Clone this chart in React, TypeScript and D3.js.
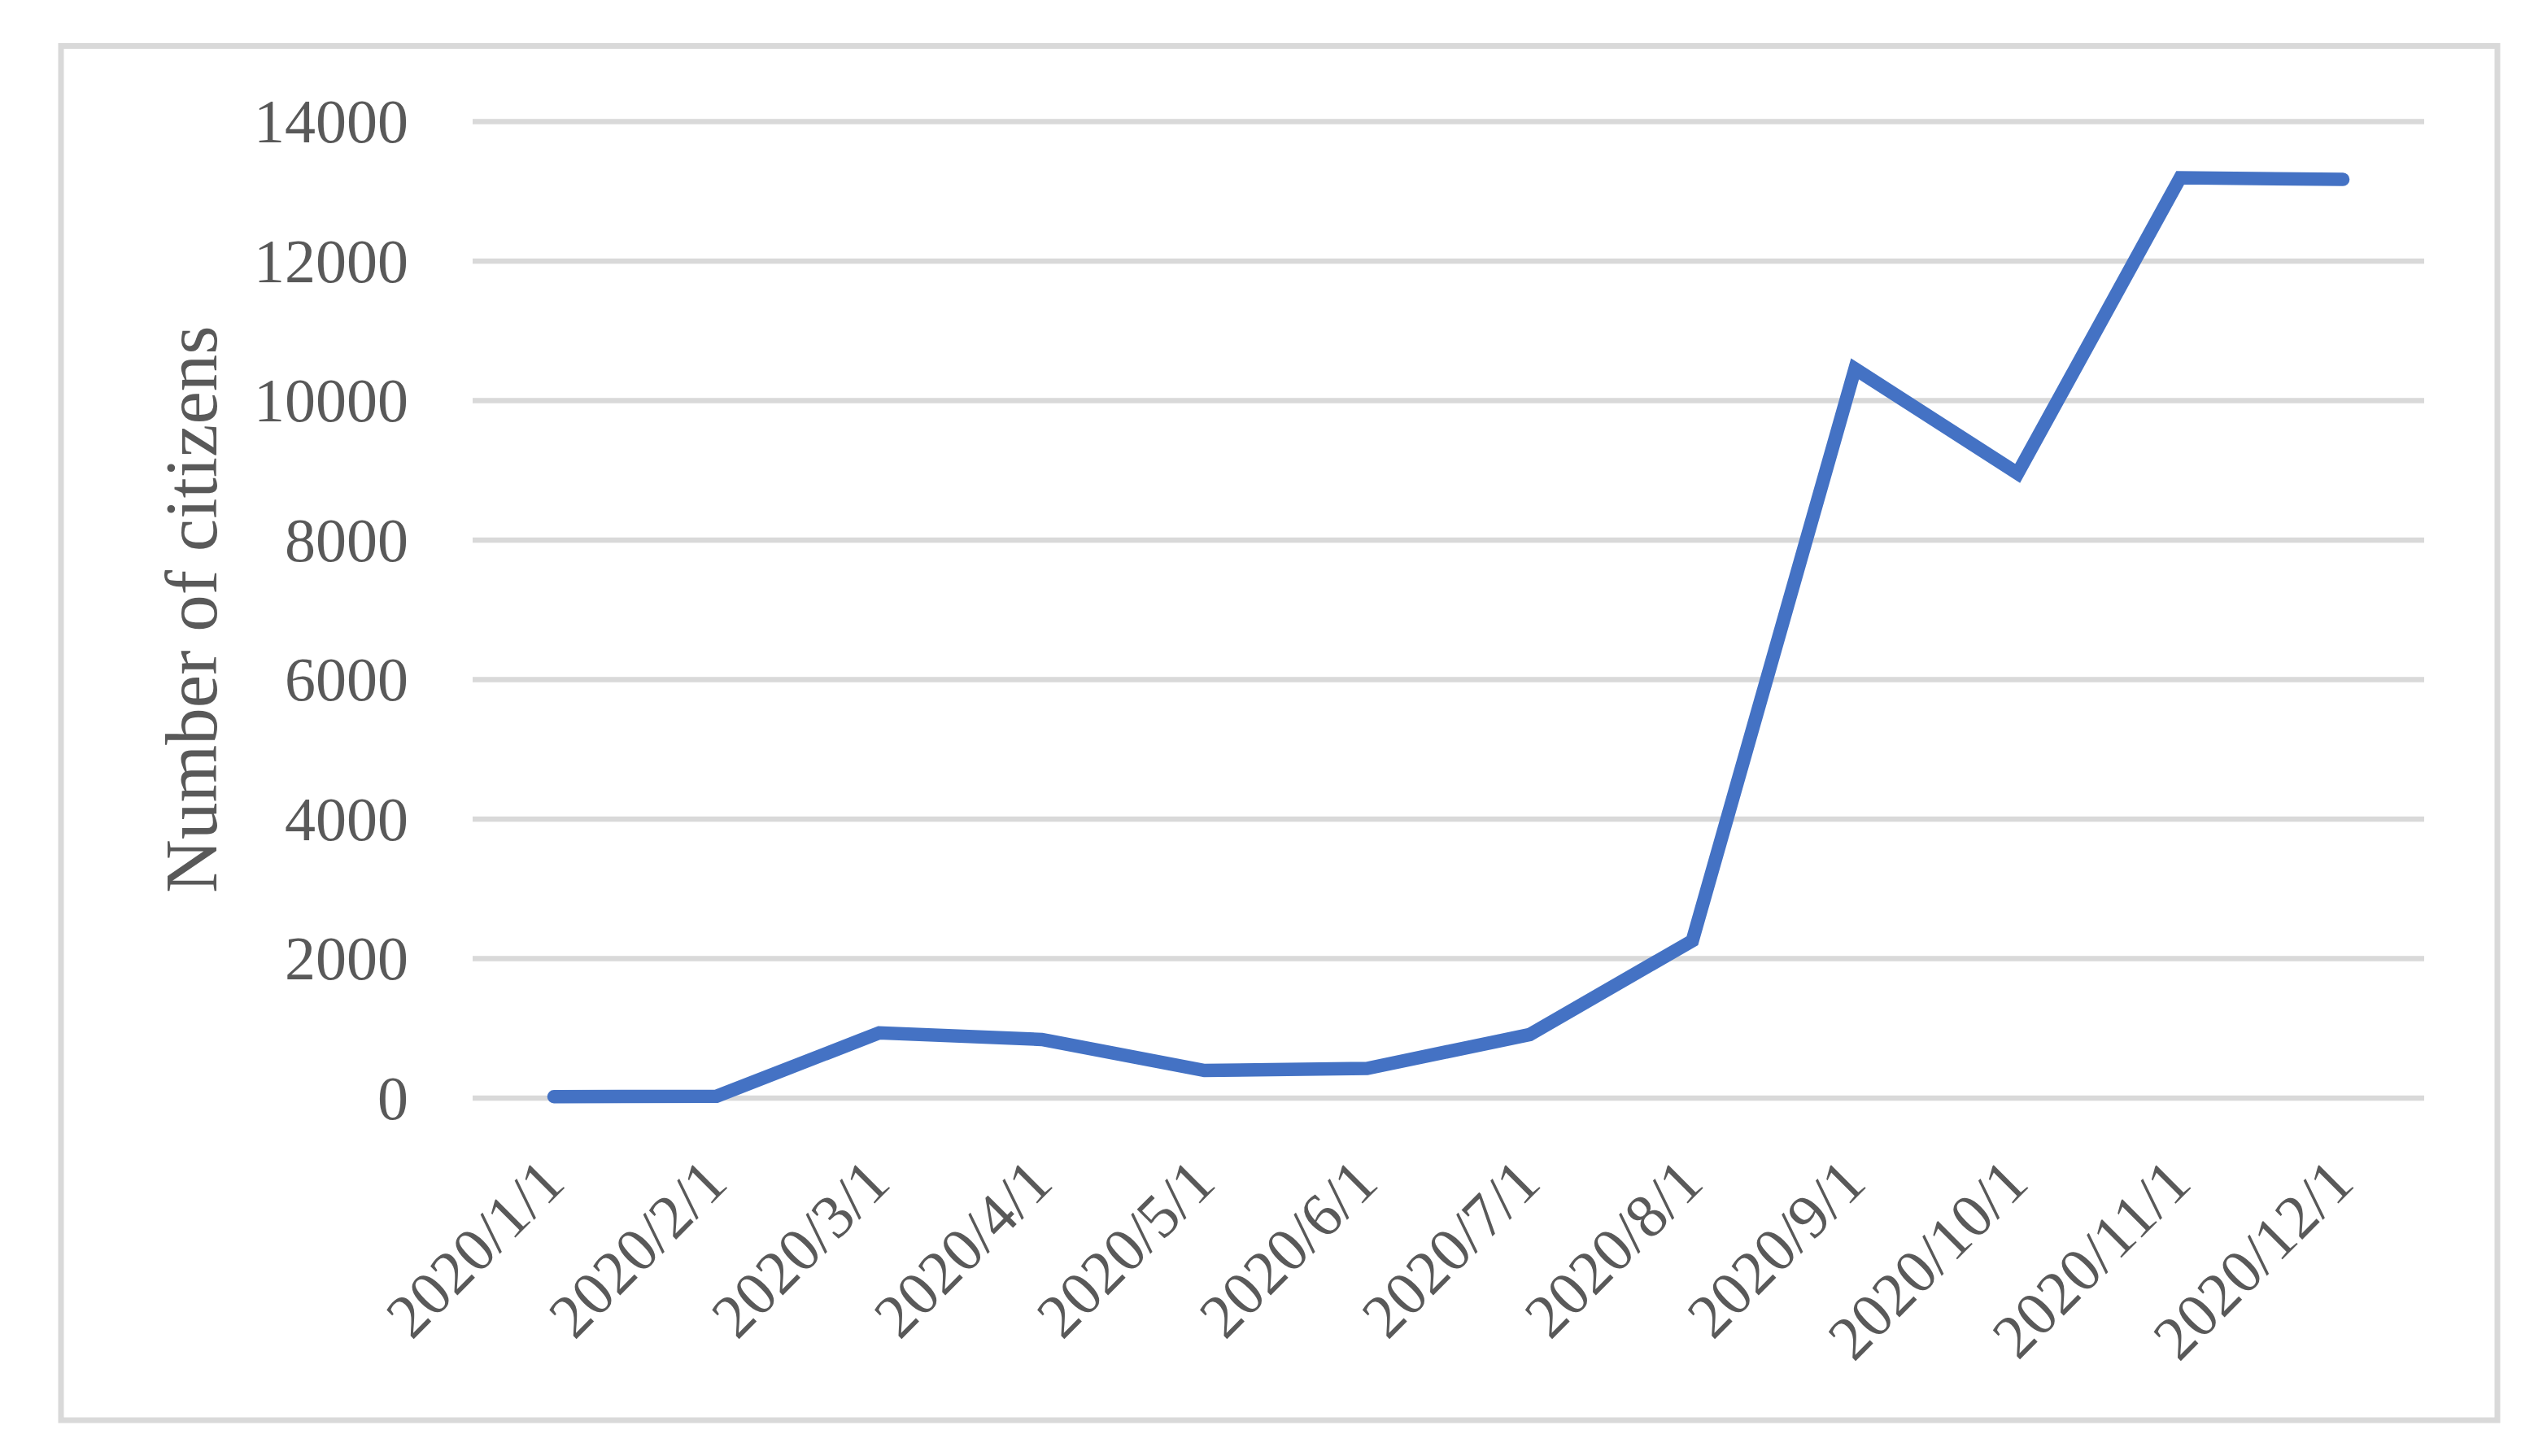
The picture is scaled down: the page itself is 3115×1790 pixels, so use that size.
import * as d3 from 'd3';
import { useEffect, useRef } from 'react';

// Chart data
const months = [
  '2020/1/1',
  '2020/2/1',
  '2020/3/1',
  '2020/4/1',
  '2020/5/1',
  '2020/6/1',
  '2020/7/1',
  '2020/8/1',
  '2020/9/1',
  '2020/10/1',
  '2020/11/1',
  '2020/12/1',
];
const citizens = [15, 20, 930, 835, 390, 420, 905, 2250, 10450, 8950, 13190, 13165];
const yTicks = [0, 2000, 4000, 6000, 8000, 10000, 12000, 14000];
const yTitle = 'Number of citizens';

export default function App() {
  const chartRef = useRef<SVGSVGElement | null>(null);

  // Define dimensions
  const width = 3115;
  const height = 1790;
  const plot = { left: 581, right: 2980, top: 149, bottom: 1349.5 };
  const font = '"Liberation Serif", "DejaVu Serif", serif';
  const textColor = '#595959';
  const gridColor = '#D9D9D9';

  useEffect(() => {
    const svg = d3.select(chartRef.current);
    svg.selectAll('*').remove();

    // Outer frame
    svg
      .append('rect')
      .attr('x', 75)
      .attr('y', 56.5)
      .attr('width', 3070 - 75)
      .attr('height', 1746 - 56.5)
      .attr('fill', 'white')
      .attr('stroke', gridColor)
      .attr('stroke-width', 7);

    // Scales
    const xScale = d3
      .scalePoint<string>()
      .domain(months)
      .range([plot.left, plot.right])
      .padding(0.5);
    const yScale = d3
      .scaleLinear()
      .domain([0, 14000])
      .range([plot.bottom, plot.top]);

    // Y axis with gridlines
    const yAxis = d3
      .axisLeft(yScale)
      .tickValues(yTicks)
      .tickFormat((d) => String(d))
      .tickSize(-(plot.right - plot.left))
      .tickPadding(79);
    const yG = svg
      .append('g')
      .attr('transform', `translate(${plot.left},0)`)
      .call(yAxis);
    yG.select('.domain').remove();
    yG.selectAll('line').attr('stroke', gridColor).attr('stroke-width', 6.5);
    yG.selectAll('text')
      .attr('fill', textColor)
      .attr('font-family', font)
      .attr('font-size', 76)
      .attr('dy', '0.34em');

    // X axis labels, rotated
    const xAxis = d3.axisBottom(xScale).tickSize(0);
    const xG = svg
      .append('g')
      .attr('transform', `translate(0,${plot.bottom})`)
      .call(xAxis);
    xG.select('.domain').remove();
    xG.selectAll('text')
      .attr('fill', textColor)
      .attr('font-family', font)
      .attr('font-size', 76)
      .attr('x', 0)
      .attr('y', 0)
      .attr('dy', 0)
      .attr('text-anchor', 'end')
      .attr('transform', 'translate(16,108) rotate(-45)');

    // Y axis title
    svg
      .append('text')
      .text(yTitle)
      .attr('transform', 'translate(266,749) rotate(-90)')
      .attr('text-anchor', 'middle')
      .attr('fill', textColor)
      .attr('font-family', font)
      .attr('font-size', 91);

    // Data line
    const line = d3
      .line<number>()
      .x((d, i) => xScale(months[i]) as number)
      .y((d) => yScale(d));
    svg
      .append('path')
      .datum(citizens)
      .attr('d', line)
      .attr('fill', 'none')
      .attr('stroke', '#4472C4')
      .attr('stroke-width', 16.5)
      .attr('stroke-linecap', 'round')
      .attr('stroke-linejoin', 'miter');
  }, []);

  return (
    <div style={{ position: 'absolute', left: 0, top: 0 }}>
      <svg
        ref={chartRef}
        width={width}
        height={height}
        style={{ display: 'block', background: 'white' }}
      />
    </div>
  );
}
